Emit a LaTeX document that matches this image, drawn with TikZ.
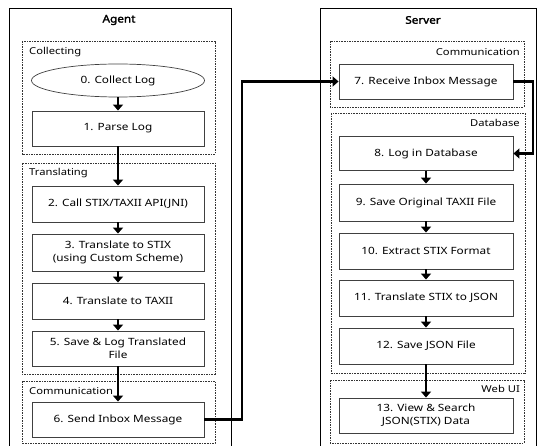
\documentclass[tikz,border=0pt]{standalone}
\usepackage{fontspec}
\setmainfont{Noto Sans}[FakeStretch=1.18]
\newfontfamily\titlefont{Noto Sans}[FakeStretch=1.12,FakeBold=2.2]
\usetikzlibrary{arrows.meta,shapes.geometric}
\begin{document}
\begin{tikzpicture}[x=1pt,y=-1pt,
  stepbox/.style={draw=black!75,line width=0.9pt,minimum width=172pt,minimum height=35pt,inner sep=1pt,align=center,font=\fontsize{10}{13}\selectfont},
  ellbox/.style={draw=black!75,line width=0.7pt,ellipse,minimum width=173pt,minimum height=33pt,inner sep=0pt,font=\fontsize{10}{13}\selectfont},
  region/.style={draw=black!80,line width=0.6pt,dash pattern=on 1.6pt off 1pt},
  regionlabel/.style={font=\fontsize{9.5}{11}\selectfont,inner sep=0pt},
  outer/.style={draw=black,line width=0.8pt},
  title/.style={font=\titlefont\fontsize{10.5}{12}\selectfont},
  flow/.style={line width=2.3pt,-{Triangle[width=10pt,length=6pt]}}]
\useasboundingbox (0,0) rectangle (537,446);
% outer frames
\draw[outer] (9,448) -- (9,8) -- (231,8) -- (231,448);
\draw[outer] (320,448) -- (320,8) -- (536,8) -- (536,448);
\node[title] (tagent) at (119,20) {Agent};
\node[title] (tserver) at (423,20) {Server};
% regions agent
\draw[region] (22,41) rectangle (215,154);
\draw[region] (22,163) rectangle (215,374);
\draw[region] (22,381) rectangle (215,443);
\node[regionlabel,anchor=west] (lcol) at (29,52) {Collecting};
\node[regionlabel,anchor=west] (ltra) at (29,173) {Translating};
\node[regionlabel,anchor=west] (lcoma) at (29,391) {Communication};
% regions server
\draw[region] (330,41) rectangle (524,107);
\draw[region] (331,113) rectangle (525,373);
\draw[region] (330,380) rectangle (524,443);
\node[regionlabel,anchor=east] (lcoms) at (520,52) {Communication};
\node[regionlabel,anchor=east] (ldb) at (520,123) {Database};
\node[regionlabel,anchor=east] (lweb) at (520,389) {Web UI};
% agent steps
\node[ellbox] (e0) at (118,80.5) {0. Collect Log};
\node[stepbox] (b1) at (118,128.5) {1. Parse Log};
\node[stepbox,minimum height=36pt] (b2) at (118,204) {2. Call STIX/TAXII API(JNI)};
\node[stepbox,minimum height=37pt] (b3) at (118,252.5) {3. Translate to STIX\\(using Custom Scheme)};
\node[stepbox,minimum height=36pt] (b4) at (118,301) {4. Translate to TAXII};
\node[stepbox] (b5) at (118,348.5) {5. Save \& Log Translated\\File};
\node[stepbox] (b6) at (118,419.5) {6. Send Inbox Message};
% server steps
\node[stepbox,minimum width=174pt] (b7) at (426,81.5) {7. Receive Inbox Message};
\node[stepbox,minimum width=174pt,minimum height=34pt] (b8) at (426,153.5) {8. Log in Database};
\node[stepbox,minimum width=174pt,minimum height=37pt] (b9) at (426,202.5) {9. Save Original TAXII File};
\node[stepbox,minimum width=174pt,minimum height=36pt] (b10) at (426,251) {10. Extract STIX Format};
\node[stepbox,minimum width=174pt,minimum height=36pt] (b11) at (426,298) {11. Translate STIX to JSON};
\node[stepbox,minimum width=174pt,minimum height=36pt] (b12) at (426,346) {12. Save JSON File};
\node[stepbox,minimum width=174pt] (b13) at (426,415.5) {13. View \& Search\\JSON(STIX) Data};
% arrows
\draw[flow] (e0) -- (b1);
\draw[flow] (b1) -- (b2);
\draw[flow] (b2) -- (b3);
\draw[flow] (b3) -- (b4);
\draw[flow] (b4) -- (b5);
\draw[flow] (b5) -- (b6);
\coordinate (j1) at (242,0);
\coordinate (j2) at (533,0);
\draw[flow] (b6.east) -- (b6.east -| j1) -- (b7.west -| j1) -- (b7.west);
\draw[flow] (b7.east) -- (b7.east -| j2) -- (b8.east -| j2) -- (b8.east);
\draw[flow] (b8) -- (b9);
\draw[flow] (b9) -- (b10);
\draw[flow] (b10) -- (b11);
\draw[flow] (b11) -- (b12);
\draw[flow] (b12) -- (b13);
\end{tikzpicture}
\end{document}
